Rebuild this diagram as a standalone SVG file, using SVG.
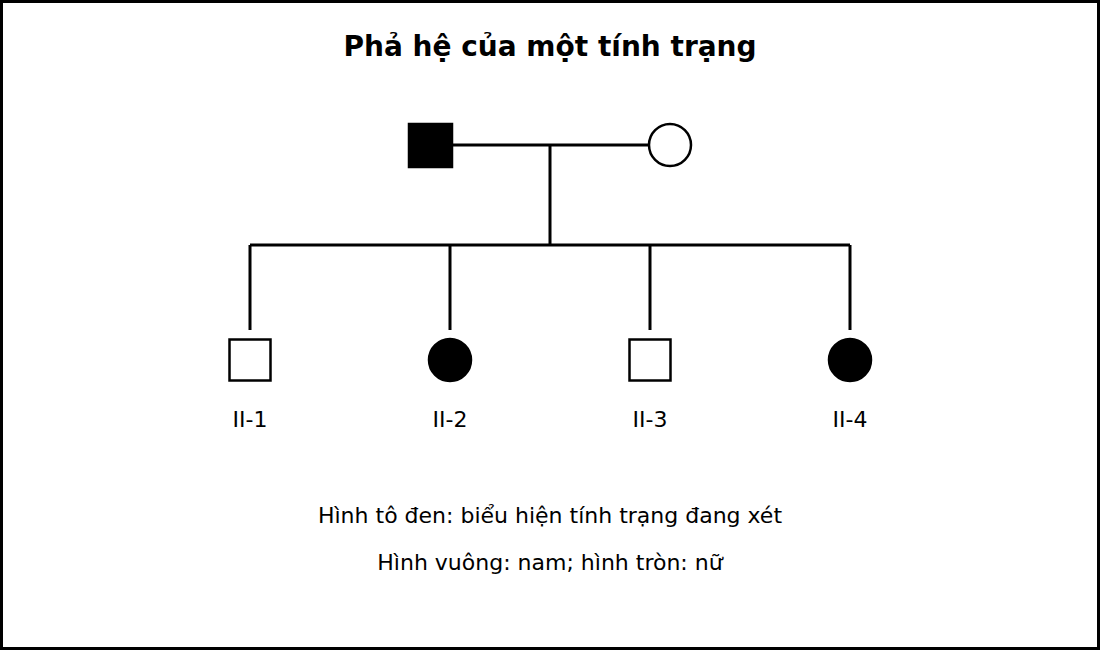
<svg xmlns="http://www.w3.org/2000/svg" width="1100" height="650" viewBox="0 0 1100 650">
<style>
.ln{stroke:#000;stroke-width:3;fill:none}
.sh{stroke:#000;stroke-width:2.5}
.t{font-family:"DejaVu Sans",sans-serif;font-size:22px;text-anchor:middle;fill:#000}
</style>
<rect x="1.5" y="1.5" width="1097" height="647" fill="#fff" stroke="#000" stroke-width="3"/>
<text x="550" y="56" class="t" style="font-size:28px;font-weight:bold">Phả hệ của một tính trạng</text>
<g id="connectors">
<path class="ln" d="M452 145H649M550 145V245M250 245H850M250 245V330M450 245V330M650 245V330M850 245V330"/>
</g>
<g id="I-1"><rect x="409" y="124" width="43" height="43" fill="#000" class="sh"/></g>
<g id="I-2"><circle cx="670" cy="145" r="21" fill="#fff" class="sh"/></g>
<g id="II-1"><rect x="229.5" y="339.5" width="41" height="41" fill="#fff" class="sh"/><text x="250" y="427" class="t">II-1</text></g>
<g id="II-2"><circle cx="450" cy="360" r="21" fill="#000" class="sh"/><text x="450" y="427" class="t">II-2</text></g>
<g id="II-3"><rect x="629.5" y="339.5" width="41" height="41" fill="#fff" class="sh"/><text x="650" y="427" class="t">II-3</text></g>
<g id="II-4"><circle cx="850" cy="360" r="21" fill="#000" class="sh"/><text x="850" y="427" class="t">II-4</text></g>
<text x="550" y="523" class="t">Hình tô đen: biểu hiện tính trạng đang xét</text>
<text x="550" y="570" class="t">Hình vuông: nam; hình tròn: nữ</text>
</svg>
